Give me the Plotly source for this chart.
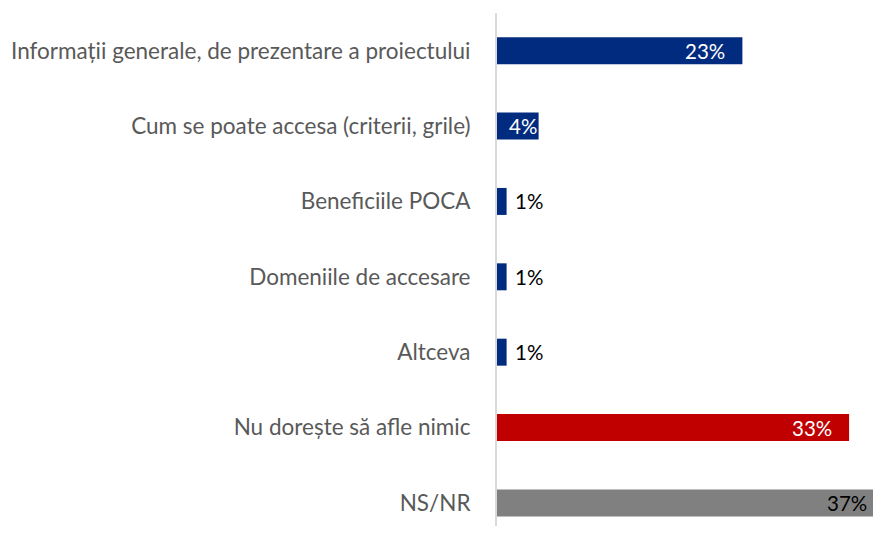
import plotly.graph_objects as go

categories = [
    "Informații generale, de prezentare a proiectului",
    "Cum se poate accesa (criterii, grile)",
    "Beneficiile POCA",
    "Domeniile de accesare",
    "Altceva",
    "Nu dorește să afle nimic",
    "NS/NR",
]
values = [23, 3.9, 0.9, 0.9, 0.9, 33, 37]
bar_colors = ["#002B7F", "#002B7F", "#002B7F", "#002B7F", "#002B7F", "#C00000", "#808080"]
label_pos = ["inside", "inside", "outside", "outside", "outside", "inside", "inside"]
label_colors = ["#FFFFFF", "#FFFFFF", "#000000", "#000000", "#000000", "#FFFFFF", "#000000"]

X_MAX = 35.24
FONT = "Lato"
LABEL_SIZE = 20.5
CAT_SIZE = 22.5

fig = go.Figure(
    go.Bar(
        x=values,
        y=categories,
        orientation="h",
        marker=dict(color=bar_colors, line=dict(width=0)),
        cliponaxis=True,
        hoverinfo="skip",
    )
)

for cat, v, p, c in zip(categories, values, label_pos, label_colors):
    if p == "outside":
        anchor, shift = "left", 6
    elif v > X_MAX:
        anchor, shift = "right", -4
    elif v > 10:
        anchor, shift = "right", -15
    else:
        anchor, shift = "right", 0
    fig.add_annotation(
        x=min(v, X_MAX),
        y=cat,
        xref="x",
        yref="y",
        text=f"{round(v)}%",
        showarrow=False,
        xanchor=anchor,
        yanchor="middle",
        xshift=shift,
        font=dict(family=FONT, size=LABEL_SIZE, color=c),
    )

fig.update_layout(
    width=865,
    height=518,
    margin=dict(l=489, r=0, t=5, b=0, autoexpand=False),
    paper_bgcolor="white",
    plot_bgcolor="white",
    bargap=0.642,
    showlegend=False,
    font=dict(family=FONT, size=CAT_SIZE, color="#595959"),
    xaxis=dict(
        range=[0, X_MAX],
        showgrid=False,
        zeroline=False,
        showticklabels=False,
        showline=False,
        fixedrange=True,
    ),
    yaxis=dict(
        categoryorder="array",
        categoryarray=categories,
        range=[6.306, -0.5],
        showgrid=False,
        zeroline=False,
        showline=True,
        linecolor="#D9D9D9",
        linewidth=2,
        ticks="",
        ticklabelstandoff=20,
        tickfont=dict(family=FONT, size=CAT_SIZE, color="#595959"),
        automargin=False,
        fixedrange=True,
    ),
)

fig.write_html("out.html")
